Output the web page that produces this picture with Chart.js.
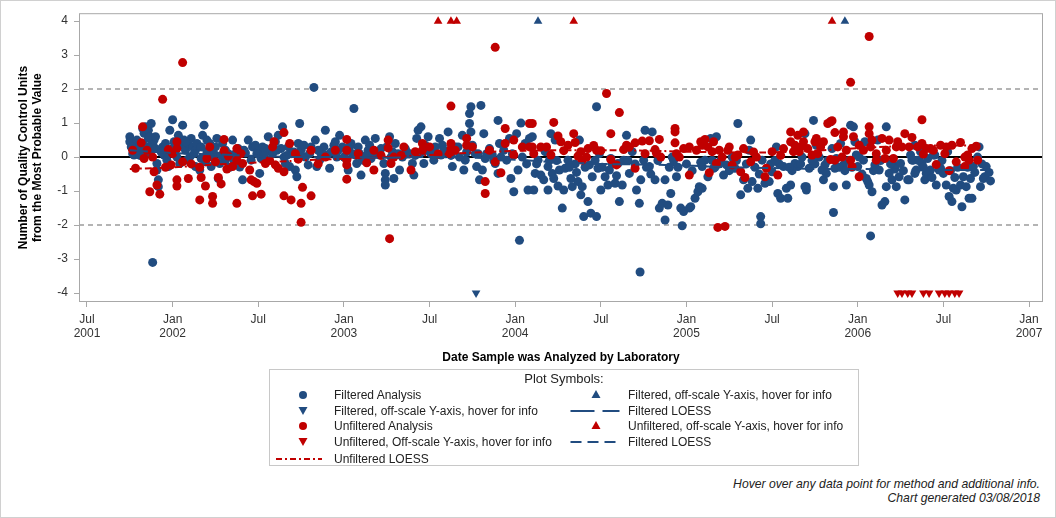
<!DOCTYPE html>
<html>
<head>
<meta charset="utf-8">
<script src="https://cdn.jsdelivr.net/npm/chart.js@4.4.1/dist/chart.umd.min.js"></script>
<style>
  body { margin: 0; background: #fff; font-family: "Liberation Sans", Arial, sans-serif; }
  #frame { position: absolute; left: 0; top: 0; width: 1056px; height: 518px; border: 1px solid #d0d0d0; box-sizing: border-box; }
  #wrap { position: absolute; left: 0; top: 0; width: 1056px; height: 370px; }
  #legend { position: absolute; left: 269px; top: 369px; width: 590px; height: 97px; border: 1px solid #c8c8c8; box-sizing: border-box; font-size: 12px; color: #222; }
  #legend .ttl { position: absolute; top: 1px; left: 0; width: 100%; text-align: center; font-size: 13px; }
  #legend .it { position: absolute; white-space: nowrap; line-height: 14px; }
  .note { position: absolute; right: 16px; font-size: 12.2px; font-style: italic; color: #222; }
</style>
</head>
<body>
<div id="frame"></div>
<div id="wrap"><canvas id="qcChart" width="1056" height="370"></canvas></div>
<div id="legend"><div class="ttl">Plot Symbols:</div></div>
<div class="note" style="top:477px">Hover over any data point for method and additional info.</div>
<div class="note" style="top:491px">Chart generated 03/08/2018</div>
<script>
// x values are months counted from Jan 2001 (6 = Jul 2001, 12 = Jan 2002 ...)
const tickMonths = [6, 12, 18, 24, 30, 36, 42, 48, 54, 60, 66, 72];
const tickLabels = [['Jul', '2001'], ['Jan', '2002'], ['Jul'], ['Jan', '2003'], ['Jul'], ['Jan', '2004'],
                    ['Jul'], ['Jan', '2005'], ['Jul'], ['Jan', '2006'], ['Jul'], ['Jan', '2007']];
const yTicks = [-4, -3, -2, -1, 0, 1, 2, 3, 4];
const refLines = [2, -2];

const filteredAnalysis = [
  [9.0,0.6],[9.0,0.45],[9.2,0.25],[9.3,0.06],[9.4,0.35],[9.5,0.5],[9.6,0.16],[9.8,0.3],[9.9,0.84],[10.0,0.7],
  [10.1,0.89],[10.2,0.74],[10.3,0.55],[10.3,0.79],[10.5,0.99],[10.3,0.3],[10.4,0.16],[10.6,0.4],[10.7,0.5],[10.8,0.25],
  [10.9,-0.19],[11.0,-0.67],[11.0,-0.87],[10.9,-0.38],[11.3,0.3],[11.4,0.06],[11.6,-0.09],[11.7,-0.28],[11.7,0.1],[11.8,0.79],
  [12.0,1.1],[12.1,0.45],[12.2,0.2],[12.3,0.0],[12.4,0.64],[12.5,-0.19],[12.6,0.35],[12.7,0.94],[12.8,0.5],[12.9,0.2],
  [13.0,-0.09],[13.1,0.4],[13.2,0.0],[13.3,0.55],[13.4,0.3],[13.6,-0.28],[13.6,0.2],[13.7,0.4],[13.9,-0.38],[14.0,-0.04],
  [14.1,0.64],[14.2,0.94],[14.3,-0.14],[14.4,0.5],[14.4,0.16],[14.6,0.4],[14.7,-0.28],[14.8,0.0],[14.9,0.1],[15.1,0.55],
  [15.2,-0.63],[15.3,-0.19],[15.5,0.4],[15.7,0.2],[15.7,-0.09],[10.6,-3.1],[9.2,0.1],[9.7,0.05],[10.2,0.1],[11.2,0.15],
  [16.0,-0.3],[16.2,0.5],[16.4,0.1],[16.7,-0.29],[16.9,-0.67],[17.1,0.12],[17.3,0.5],[17.5,-0.09],[17.6,0.3],[16.6,0.25],
  [17.8,0.35],[18.0,0.16],[18.2,-0.04],[18.1,-0.48],[18.3,0.3],[18.7,0.6],[18.9,0.16],[19.2,0.45],[19.4,0.64],[19.6,0.25],
  [19.7,0.89],[19.8,0.0],[19.9,-0.19],[20.1,0.3],[20.2,-0.28],[20.3,0.1],[20.6,-0.38],[20.7,-0.58],[20.8,0.4],[20.9,0.99],
  [21.0,0.2],[21.3,0.0],[21.5,-0.23],[21.7,0.3],[21.9,2.05],[22.0,0.5],[22.1,-0.28],[22.3,-0.09],[22.6,0.3],[22.7,0.79],
  [22.8,0.06],[23.0,-0.33],[23.3,0.35],[23.4,0.45],[23.6,0.2],[23.7,0.64],[23.9,0.3],[24.0,0.0],[24.2,0.16],[24.3,-0.38],
  [24.5,0.4],[24.7,1.43],[24.8,0.06],[24.9,-0.19],[25.0,0.3],[25.2,-0.53],[25.3,-0.09],[25.5,0.5],[25.7,0.2],[25.8,0.35],
  [25.9,-0.04],[26.2,0.55],[26.3,0.16],[26.5,0.06],[26.8,-0.19],[26.9,-0.48],[26.9,-0.67],[26.9,-0.82],[27.0,0.3],[27.2,0.6],
  [27.3,0.0],[27.5,-0.63],[19.0,0.1],[20.5,0.15],[22.4,0.1],[23.1,0.15],[24.6,0.1],[26.0,0.1],[18.5,0.25],[21.2,0.35],
  [27.4,0.16],[27.6,0.4],[27.9,-0.38],[28.1,0.0],[28.3,0.25],[28.8,-0.19],[28.9,-0.53],[29.1,0.55],[29.2,0.79],[29.4,0.89],
  [29.5,0.16],[29.6,-0.19],[29.7,0.35],[29.9,0.6],[30.1,0.1],[30.3,-0.09],[30.4,0.3],[30.7,0.55],[30.8,0.06],[30.9,0.35],
  [31.1,0.16],[31.3,0.74],[31.6,-0.28],[31.8,0.3],[32.1,0.0],[32.3,0.64],[32.4,-0.38],[32.5,-0.09],[32.8,0.99],[32.8,1.28],
  [32.9,1.48],[32.9,0.74],[33.0,0.35],[33.2,0.1],[33.3,-0.28],[33.5,-0.67],[33.6,1.52],[33.7,-0.38],[33.8,0.69],[33.9,-0.04],
  [34.2,0.25],[34.4,0.06],[34.6,-0.19],[34.8,1.08],[34.8,-0.48],[34.9,0.4],[35.2,0.2],[35.4,-0.09],[35.6,0.55],[35.7,-0.63],
  [35.9,-1.02],[36.1,0.69],[36.2,-0.38],[36.4,1.0],[36.5,0.0],[36.7,0.4],[36.9,-0.97],[37.0,0.55],[28.6,0.1],[31.0,0.2],
  [36.3,-2.45],[37.2,0.6],[37.3,-0.97],[37.4,-0.48],[37.6,-0.09],[37.8,-0.53],[38.0,-0.67],[38.1,0.16],[38.3,-0.28],[38.3,-0.97],
  [38.5,0.69],[38.6,-0.48],[38.7,-0.63],[38.8,0.5],[39.1,-0.38],[39.3,-1.5],[39.4,-0.97],[39.5,-0.33],[39.7,-0.09],[39.9,-0.63],
  [40.0,-0.87],[40.4,-0.72],[40.5,0.5],[40.6,-1.11],[40.7,-0.87],[40.8,-1.75],[41.1,-1.31],[41.2,-0.23],[41.3,-1.65],[41.4,-0.58],
  [41.7,1.48],[41.7,-1.75],[41.8,-0.33],[41.9,0.1],[42.0,-0.97],[42.3,-0.58],[42.5,-0.82],[42.6,-0.38],[42.7,-0.04],[43.0,-0.77],
  [43.2,-0.19],[43.3,-1.31],[43.5,-0.82],[43.6,-0.09],[43.8,0.64],[44.0,-0.48],[44.2,0.16],[44.5,-0.97],[44.7,-1.36],[44.8,-0.67],
  [45.0,-0.09],[45.1,0.79],[45.4,-0.28],[45.6,0.74],[45.8,-0.67],[46.1,-1.5],[46.3,-1.36],[46.5,-0.67],[46.5,-1.85],[44.75,-3.38],
  [38.9,-0.1],[40.2,-0.2],[42.1,-0.3],[44.4,-0.2],[46.0,-0.1],[39.0,-0.85],[40.3,-0.45],[43.1,-0.55],
  [46.7,-1.41],[46.9,-1.07],[47.0,0.0],[47.3,-0.58],[47.6,-1.5],[47.7,-2.02],[47.8,-1.6],[48.2,-1.5],[48.3,-1.46],[48.6,-1.21],
  [48.8,-1.02],[48.9,-0.87],[49.1,-0.92],[49.1,-0.28],[49.3,-0.09],[49.5,-0.58],[49.7,0.55],[49.9,-0.33],[50.1,0.6],[50.4,-0.09],
  [50.6,-0.53],[50.8,-0.23],[51.2,0.0],[51.4,-0.33],[51.6,0.99],[51.8,-1.11],[52.0,-0.67],[52.3,-0.92],[52.4,0.2],[52.5,0.5],
  [52.6,-0.72],[53.0,-0.92],[53.2,-1.75],[53.2,-1.96],[53.3,-0.09],[53.5,-0.77],[53.8,-0.72],[54.0,-0.43],[54.3,0.3],[54.4,-1.07],
  [54.6,-1.21],[54.8,-0.28],[55.0,-0.92],[55.1,-1.21],[55.3,-0.82],[55.6,-0.19],[55.8,-0.28],[56.1,0.0],[56.3,-0.87],[48.0,-0.2],
  [49.8,-0.1],[51.0,-0.4],[52.8,-0.3],[54.5,-0.2],[55.4,-0.4],[47.4,-0.3],[50.0,-0.3],[53.9,-0.2],
  [56.3,0.69],[56.4,-0.87],[56.4,-0.97],[56.6,-0.33],[56.9,1.08],[57.1,0.35],[57.3,0.0],[57.5,-0.38],[57.6,-0.67],[57.7,-0.23],
  [57.8,-0.48],[58.1,1.04],[58.2,0.25],[58.3,-0.87],[58.3,-1.63],[58.4,-0.33],[58.5,-0.04],[58.8,0.4],[59.0,-0.23],[59.2,-0.82],
  [59.5,0.94],[59.7,0.89],[59.8,0.45],[59.9,0.06],[60.0,-0.28],[60.1,0.0],[60.4,-0.09],[60.5,0.45],[60.6,-0.63],[60.7,-0.72],
  [60.8,-0.82],[60.9,-2.32],[61.0,-1.02],[61.2,-0.23],[61.4,0.5],[61.5,-0.38],[61.7,-1.41],[61.9,-1.31],[62.0,0.89],[62.0,-0.87],
  [62.2,-0.48],[62.4,-0.67],[62.5,-0.23],[62.7,-0.87],[62.9,-0.58],[63.0,-0.19],[63.3,-1.26],[63.5,-0.67],[63.8,-0.09],[64.0,0.35],
  [64.1,-0.38],[64.2,-0.09],[64.5,-0.19],[64.7,-0.67],[64.9,-0.04],[65.1,-0.38],[65.4,0.06],[65.5,-0.82],[65.8,-0.33],[63.6,-0.67],
  [63.7,0.06],[63.9,-0.09],[64.0,-0.48],[64.3,-0.09],[64.4,0.16],[64.8,-0.48],[65.3,0.06],[65.7,-0.38],[66.0,-0.48],[66.2,-0.82],
  [66.3,0.16],[66.4,-1.16],[66.6,-1.31],[66.7,-0.92],[66.9,-0.97],[67.2,-0.82],[67.3,-1.46],[67.4,-0.58],[67.6,-0.87],[67.8,-1.21],
  [67.9,-0.63],[68.0,-1.21],[68.1,-0.28],[68.4,0.0],[68.5,0.3],[68.6,-0.87],[68.8,-0.63],[68.9,-0.58],[69.0,-0.28],[57.0,-0.2],
  [58.7,-0.3],[61.1,-0.4],[62.6,-0.35],[66.5,-0.4],[67.0,-0.3],[68.2,-0.45],[59.4,-0.1],
  [9.1,0.3],[9.5,0.2],[9.9,0.4],[10.4,0.6],[10.8,0.6],[11.5,0.4],[12.1,0.3],[12.9,0.45],[13.5,0.1],[14.0,0.3],
  [14.6,0.05],[15.0,0.3],[15.4,0.05],[15.9,0.1],[16.3,-0.1],[17.0,0.2],[17.9,0.1],[18.4,0.05],[19.3,0.2],[20.0,0.05],
  [20.9,0.1],[21.6,0.1],[22.2,0.2],[23.5,0.0],[24.4,0.3],[25.1,0.1],[25.6,0.05],[26.6,0.25],[27.8,0.1],[28.4,0.15],
  [29.0,0.05],[29.8,0.2],[30.5,0.1],[31.5,0.05],[32.0,0.3],[32.6,0.15],[33.4,0.1],[34.0,0.1],[34.5,-0.1],[35.0,0.0],
  [35.8,0.1],[36.8,-0.2],[37.5,-0.2],[38.4,-0.1],[39.8,-0.3],[40.9,-0.3],[41.6,-0.1],[42.8,-0.2],[43.9,-0.1],[45.2,-0.3],
  [45.5,-0.5],[46.8,-0.3],[47.1,-0.1],[48.4,-0.4],[49.0,-0.15],[50.3,-0.2],[51.5,-0.1],[52.2,-0.2],[53.1,-0.5],[54.2,-0.1],
  [55.2,-0.3],[56.0,-0.2],[56.8,-0.1],[57.9,-0.1],[59.1,-0.4],[59.6,-0.3],[60.3,-0.5],[61.6,-0.1],[62.3,-0.2],[63.2,-0.4],
  [64.6,-0.3],[65.2,-0.6],[65.9,-0.1],[66.8,-0.6],[67.7,-0.3],[68.7,-0.2],[69.2,-0.45],[69.3,-0.7]
];
const filteredOffHigh = [[37.6, 4], [59.1, 4]];
const filteredOffLow = [[33.26, -4]];

const unfilteredAnalysis = [
  [9.2,0.2],[9.4,-0.33],[9.8,0.42],[9.9,0.89],[10.0,-0.04],[10.4,-1.02],[10.7,-0.43],[10.9,-0.82],[11.3,1.7],[11.1,-1.09],
  [11.7,0.22],[11.9,-0.23],[12.3,0.45],[12.3,0.25],[12.3,-0.67],[12.3,-0.85],[12.7,2.78],[12.7,-0.14],[13.1,-0.63],[13.9,-0.3],
  [13.9,-1.26],[14.0,-0.6],[14.3,-0.85],[14.4,-0.04],[14.8,-1.16],[14.8,-1.36],[15.0,-0.14],[15.2,-0.6],[15.4,-0.79],[15.6,0.52],
  [15.6,0.19],[15.9,0.03],[16.2,-0.28],[16.5,0.25],[16.5,-1.36],[16.5,-0.09],[16.9,-0.19],[17.4,-0.38],[17.5,-0.67],[17.6,-1.14],
  [17.7,-0.72],[17.9,-0.77],[18.2,-1.09],[18.5,-0.19],[19.0,0.3],[19.1,0.45],[19.2,-0.23],[19.4,-0.33],[19.8,-0.43],[19.8,0.72],
  [19.8,-1.14],[20.2,0.4],[20.3,-1.26],[20.8,-0.06],[21.0,-1.36],[21.1,-0.89],[21.0,-1.92],[21.7,-1.14],[21.7,0.2],[22.7,0.0],
  [24.2,0.52],[24.2,0.2],[24.2,-0.09],[24.2,-0.23],[24.2,-0.65],[25.6,-0.17],[26.1,0.2],[26.1,-0.38],[27.1,0.5],[27.1,0.27],
  [27.3,-0.19],[27.2,-2.4],[27.5,0.0],[28.2,0.3],[28.7,-0.38],[29.0,0.16],[29.5,0.4],[29.5,0.2],[30.6,0.09],[31.5,1.5],
  [31.5,0.4],[31.5,0.25],[31.4,0.1],[31.8,0.2],[32.6,0.55],[32.6,0.35],[33.9,-0.72],[33.9,-1.07],[34.6,3.23],[34.6,-0.14],
  [35.0,-0.46],[35.3,0.84],[35.3,0.4],[35.9,0.5],[35.9,0.06],[37.0,0.99],[37.0,0.3],[37.2,0.99],[37.2,0.3],[37.3,0.1],
  [37.8,0.3],[38.2,0.3],[38.5,0.06],[38.7,1.02],[39.0,0.62],[39.2,0.45],[39.4,0.19],[40.1,0.69],[40.2,0.43],[40.4,0.03],
  [40.6,0.16],[40.7,-0.09],[41.1,0.25],[41.5,0.34],[41.7,0.2],[42.0,0.19],[42.4,1.87],[42.7,0.69],[42.7,-0.07],[43.1,-0.23],
  [43.3,1.31],[43.6,0.22],[44.0,0.3],[44.4,0.42],[44.4,-0.33],[44.9,0.47],[45.4,0.48],[45.8,0.22],[45.9,0.11],[46.1,0.52],
  [46.2,0.0],[47.2,0.84],[47.2,0.74],[47.2,0.42],[47.3,0.1],[47.5,0.0],[48.2,0.3],[48.2,-0.53],[48.7,0.2],[49.0,0.45],
  [49.1,0.35],[49.3,0.52],[49.5,0.3],[49.6,-0.46],[49.8,0.16],[50.1,-0.19],[50.2,-2.07],[50.3,0.2],[50.5,0.0],[50.7,-2.04],
  [50.9,0.2],[51.2,-0.23],[51.4,0.0],[51.6,0.06],[51.8,-0.43],[52.0,0.25],[52.1,-0.6],[52.5,-0.14],[52.9,0.0],[53.5,-0.58],
  [53.6,-0.33],[54.0,0.16],[54.4,-0.53],[54.8,0.25],[55.3,0.45],[55.3,0.74],[55.5,0.16],[55.6,0.35],[55.8,0.64],[55.9,0.16],
  [56.2,0.74],[56.2,0.45],[56.5,0.25],[56.8,0.06],[57.1,0.55],[57.2,0.1],[57.6,0.45],[57.9,0.99],[58.1,1.04],[58.2,1.07],
  [58.1,-0.07],[58.4,-0.09],[58.4,0.72],[58.9,0.0],[59.0,0.74],[59.0,0.6],[59.5,-0.09],[59.5,2.2],[59.6,-0.28],[59.7,0.6],
  [60.1,0.35],[60.1,-0.58],[60.8,3.55],[60.8,0.89],[60.8,0.69],[60.9,0.3],[61.3,0.1],[61.3,-0.09],[61.7,0.55],[61.9,-0.04],
  [62.2,0.5],[62.5,-0.04],[62.7,0.3],[63.1,0.3],[63.3,0.69],[63.6,0.3],[63.8,0.58],[64.5,1.1],[64.5,0.4],[64.6,0.09],
  [64.8,0.25],[65.1,0.25],[65.5,-0.22],[65.8,0.35],[66.1,0.1],[66.4,-0.4],[66.6,0.35],[66.9,-0.14],[67.2,0.43],[67.5,0.0],
  [67.5,-0.28],[67.7,0.06],[67.8,-0.09],[68.3,0.32],[68.4,-0.09],[56.0,0.3],[57.4,0.3],[59.2,0.2],[62.0,0.2],[65.3,0.2],
  [10.2,0.2],[10.6,0.0],[11.5,-0.3],[12.0,0.1],[13.3,-0.2],[14.6,0.3],[15.8,-0.35],[16.8,0.1],[18.8,-0.1],[20.6,0.1],
  [22.2,-0.2],[23.4,0.2],[25.0,0.1],[26.6,0.05],[28.0,0.05],[30.0,0.3],[33.0,0.3],[34.2,0.2],[36.5,0.3],[39.7,0.35],
  [41.0,0.0],[43.8,0.35],[45.1,0.1],[47.8,0.25],[49.9,0.45],[51.0,0.3],[52.7,0.15],[54.6,0.05],[57.0,0.45],[58.6,0.3],
  [60.4,0.2],[61.0,0.5],[62.8,0.45],[64.2,0.3],[66.2,0.3],[68.0,0.25]
];
const unfilteredOffHigh = [[30.6, 4], [31.5, 4], [31.9, 4], [40.1, 4], [58.2, 4]];
const unfilteredOffLow = [[62.8, -4], [63.1, -4], [63.5, -4], [63.8, -4], [64.6, -4], [65.0, -4],
                          [65.7, -4], [66.1, -4], [66.4, -4], [66.8, -4], [67.1, -4]];

const filteredLoess = [[9, 0.2], [12, 0.12], [15, 0.08], [18, 0.03], [21, 0.0], [24, 0.0], [27, -0.02], [30, 0.0],
  [33, -0.02], [36, -0.08], [39, -0.15], [42, -0.2], [45, -0.22], [48, -0.25], [51, -0.3], [54, -0.32], [57, -0.35],
  [60, -0.35], [63, -0.37], [66, -0.38], [69, -0.38]];
const unfilteredLoess = [[9, -0.35], [12, -0.3], [15, -0.22], [18, -0.16], [21, -0.1], [24, -0.05], [27, 0.0], [30, 0.06],
  [33, 0.13], [36, 0.18], [39, 0.2], [42, 0.2], [45, 0.19], [48, 0.16], [51, 0.14], [54, 0.14], [57, 0.19], [60, 0.26],
  [63, 0.32], [66, 0.34], [68.4, 0.34]];

const BLUE = '#214c80';
const RED = '#c00000';
const pts = arr => arr.map(p => ({ x: p[0], y: p[1] }));

const guideLines = {
  id: 'guideLines',
  beforeDatasetsDraw(chart) {
    const { ctx, chartArea: a, scales: { y } } = chart;
    ctx.save();
    ctx.strokeStyle = '#b4b4b4';
    ctx.lineWidth = 2;
    ctx.setLineDash([5, 4]);
    refLines.forEach(v => {
      const py = Math.round(y.getPixelForValue(v));
      ctx.beginPath(); ctx.moveTo(a.left, py); ctx.lineTo(a.right, py); ctx.stroke();
    });
    ctx.setLineDash([]);
    ctx.strokeStyle = '#000';
    const p0 = Math.round(y.getPixelForValue(0));
    ctx.beginPath(); ctx.moveTo(a.left, p0); ctx.lineTo(a.right, p0); ctx.stroke();
    ctx.restore();
  },
  afterDraw(chart) {
    const { ctx, chartArea: a } = chart;
    ctx.save();
    ctx.strokeStyle = '#a8a8a8';
    ctx.lineWidth = 1;
    ctx.strokeRect(a.left + 0.5, a.top + 0.5, a.right - a.left - 1, a.bottom - a.top - 1);
    ctx.restore();
  }
};

Chart.defaults.font.family = '"Liberation Sans", Arial, sans-serif';
Chart.defaults.font.size = 12;
Chart.defaults.color = '#333';

new Chart(document.getElementById('qcChart'), {
  type: 'scatter',
  data: {
    datasets: [
      { type: 'line', label: 'Filtered LOESS', data: pts(filteredLoess), borderColor: BLUE, borderWidth: 2,
        borderDash: [18, 5], pointRadius: 0, tension: 0.4, order: 0 },
      { type: 'line', label: 'Unfiltered LOESS', data: pts(unfilteredLoess), borderColor: RED, borderWidth: 2,
        borderDash: [7, 3, 2, 3], pointRadius: 0, tension: 0.4, order: 0 },
      { label: 'Unfiltered Analysis', data: pts(unfilteredAnalysis), backgroundColor: RED, pointRadius: 4.5,
        pointBorderWidth: 0, order: 1 },
      { label: 'Unfiltered, off-scale Y-axis, hover for info', data: pts(unfilteredOffHigh), backgroundColor: RED,
        pointStyle: 'triangle', pointRadius: 5, pointBorderWidth: 0, order: 1 },
      { label: 'Unfiltered, Off-scale Y-axis, hover for info', data: pts(unfilteredOffLow), backgroundColor: RED,
        pointStyle: 'triangle', rotation: 180, pointRadius: 5, pointBorderWidth: 0, order: 1 },
      { label: 'Filtered, off-scale Y-axis, hover for info', data: pts(filteredOffHigh), backgroundColor: BLUE,
        pointStyle: 'triangle', pointRadius: 5, pointBorderWidth: 0, order: 2 },
      { label: 'Filtered, off-scale Y-axis, hover for info', data: pts(filteredOffLow), backgroundColor: BLUE,
        pointStyle: 'triangle', rotation: 180, pointRadius: 5, pointBorderWidth: 0, order: 2 },
      { label: 'Filtered Analysis', data: pts(filteredAnalysis), backgroundColor: BLUE, pointRadius: 4.5,
        pointBorderWidth: 0, order: 2 }
    ]
  },
  options: {
    responsive: false,
    animation: false,
    layout: { padding: { top: 12, right: 13, left: 0, bottom: 0 } },
    plugins: { legend: { display: false }, tooltip: { enabled: false } },
    scales: {
      x: {
        type: 'linear', min: 5.44, max: 72.98,
        afterBuildTicks: s => { s.ticks = tickMonths.map(v => ({ value: v })); },
        afterFit: s => { s.height = 68; },
        grid: { drawOnChartArea: false, drawTicks: true, tickLength: 5, color: '#a8a8a8' },
        border: { display: false },
        ticks: { maxRotation: 0, autoSkip: false, padding: 5, color: '#333',
          callback: v => tickLabels[tickMonths.indexOf(v)] },
        title: { display: true, text: 'Date Sample was Analyzed by Laboratory', color: '#000',
          font: { weight: 'bold', size: 12 }, padding: { top: 4, bottom: 5 } }
      },
      y: {
        min: -4.264, max: 4.234,
        afterBuildTicks: s => { s.ticks = yTicks.map(v => ({ value: v })); },
        afterFit: s => { s.width = 79; },
        grid: { drawOnChartArea: false, drawTicks: true, tickLength: 5, color: '#a8a8a8' },
        border: { display: false },
        ticks: { padding: 6, color: '#333' },
        title: { display: true, text: ['Number of Quality Control Units', 'from the Most Probable Value'],
          color: '#000', font: { weight: 'bold', size: 12 }, padding: { top: 16, bottom: 0 } }
      }
    }
  },
  plugins: [guideLines]
});

// HTML legend (positions relative to the legend box)
const legendRows = [
  { cx: 33, y: 25, sym: 'dot', color: BLUE, text: 'Filtered Analysis' },
  { cx: 326, y: 25, sym: 'up', color: BLUE, text: 'Filtered, off-scale Y-axis, hover for info' },
  { cx: 33, y: 41, sym: 'down', color: BLUE, text: 'Filtered, off-scale Y-axis, hover for info' },
  { cx: 325, y: 41, sym: 'long', color: BLUE, text: 'Filtered LOESS' },
  { cx: 33, y: 56, sym: 'dot', color: RED, text: 'Unfiltered Analysis' },
  { cx: 326, y: 56, sym: 'up', color: RED, text: 'Unfiltered, off-scale Y-axis, hover for info' },
  { cx: 33, y: 72, sym: 'down', color: RED, text: 'Unfiltered, Off-scale Y-axis, hover for info' },
  { cx: 325, y: 72, sym: 'short', color: BLUE, text: 'Filtered LOESS' },
  { cx: 29, y: 89, sym: 'dashdot', color: RED, text: 'Unfiltered LOESS' }
];
const legend = document.getElementById('legend');
legendRows.forEach(r => {
  const s = document.createElement('canvas');
  s.width = 54; s.height = 14;
  s.style.position = 'absolute';
  s.style.left = (r.cx - 27) + 'px';
  s.style.top = (r.y - 7) + 'px';
  const c = s.getContext('2d');
  c.fillStyle = r.color; c.strokeStyle = r.color; c.lineWidth = 2;
  if (r.sym === 'dot') { c.beginPath(); c.arc(27, 7, 4, 0, Math.PI * 2); c.fill(); }
  else if (r.sym === 'up') { c.beginPath(); c.moveTo(27, 2); c.lineTo(31.5, 10); c.lineTo(22.5, 10); c.fill(); }
  else if (r.sym === 'down') { c.beginPath(); c.moveTo(27, 11); c.lineTo(31.5, 3); c.lineTo(22.5, 3); c.fill(); }
  else {
    const half = r.sym === 'dashdot' ? 23 : 24.5;
    c.setLineDash(r.sym === 'long' ? [24, 8] : r.sym === 'short' ? [11, 6] : [6, 3, 2, 3]);
    c.beginPath(); c.moveTo(27 - half, 7); c.lineTo(27 + half, 7); c.stroke();
  }
  legend.appendChild(s);
  const t = document.createElement('div');
  t.className = 'it';
  t.style.left = (r.cx < 100 ? 64 : 358) + 'px';
  t.style.top = (r.y - 7) + 'px';
  t.textContent = r.text;
  legend.appendChild(t);
});
</script>
</body>
</html>
